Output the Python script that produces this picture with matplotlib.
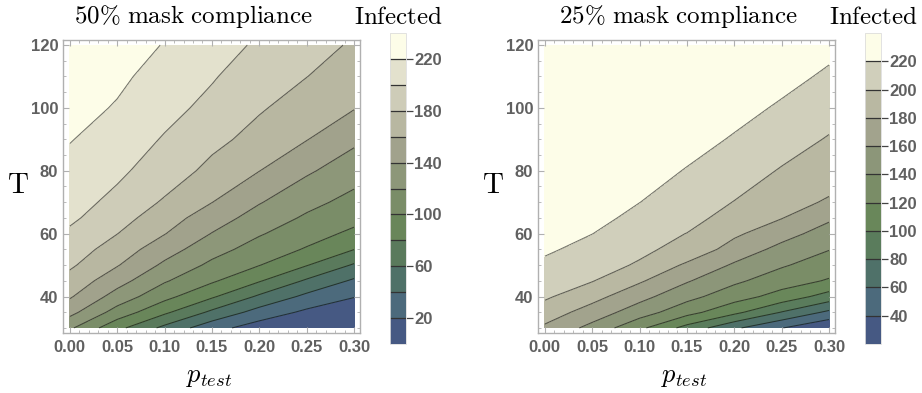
import numpy as np
import matplotlib
matplotlib.use('Agg')
import matplotlib.pyplot as plt
from matplotlib.ticker import MultipleLocator

plt.rcParams['mathtext.fontset'] = 'cm'
plt.rcParams['font.family'] = ['Liberation Sans', 'DejaVu Sans']

# grid: columns = p_test, rows = T
p_test = [0.0, 0.05, 0.10, 0.15, 0.20, 0.25, 0.30]
T_vals = [30, 35, 40, 45, 50, 55, 60, 65, 70, 80, 90, 100, 110, 120]

infected_50 = [
    [123.2, 85.6, 54.8, 27.4, 10.0, 5.0, 1.0],
    [146.2, 112.0, 83.7, 56.0, 32.1, 16.0, 10.0],
    [162.2, 131.9, 106.1, 82.7, 56.9, 35.3, 20.7],
    [172.9, 147.9, 122.0, 102.8, 81.6, 57.3, 37.0],
    [183.2, 161.3, 136.3, 115.6, 100.6, 81.0, 57.9],
    [190.8, 170.7, 148.9, 127.7, 111.3, 98.3, 80.3],
    [196.7, 180.3, 160.7, 139.3, 121.8, 108.1, 95.9],
    [203.6, 188.1, 168.9, 149.8, 131.6, 117.1, 105.8],
    [205.9, 195.9, 177.4, 160.3, 141.3, 125.8, 113.7],
    [213.6, 203.1, 192.0, 174.0, 160.3, 142.9, 128.8],
    [221.0, 210.3, 198.5, 186.0, 172.5, 160.7, 144.1],
    [227.1, 218.4, 205.7, 195.1, 182.2, 170.3, 161.0],
    [233.2, 223.9, 212.4, 201.6, 189.8, 180.3, 169.3],
    [239.0, 230.0, 219.0, 208.0, 197.3, 187.7, 177.7],
]

infected_25 = [
    [176.5, 153.8, 124.5, 93.0, 63.5, 40.7, 21.5],
    [190.5, 171.3, 149.5, 127.2, 105.2, 79.2, 55.9],
    [203.0, 186.8, 166.5, 146.3, 128.6, 112.4, 91.7],
    [209.1, 200.9, 182.5, 161.8, 143.8, 129.4, 118.1],
    [216.1, 207.3, 198.0, 176.7, 157.5, 142.2, 129.9],
    [223.0, 213.6, 203.8, 194.0, 171.9, 154.2, 140.7],
    [228.0, 220.2, 209.2, 199.6, 183.5, 167.4, 151.5],
    [230.0, 226.0, 214.6, 207.5, 191.5, 180.7, 163.1],
    [232.0, 228.0, 220.2, 209.3, 199.5, 186.7, 178.0],
    [235.0, 232.0, 229.0, 218.8, 208.9, 198.6, 188.8],
    [237.0, 234.5, 232.0, 228.0, 218.1, 208.1, 198.6],
    [238.5, 236.5, 234.5, 231.0, 227.0, 217.3, 207.7],
    [239.3, 238.0, 236.5, 234.0, 230.5, 226.5, 216.7],
    [239.8, 239.0, 238.0, 236.0, 233.5, 230.0, 225.7],
]

levels_50 = list(range(0, 241, 20))
levels_25 = [21] + list(range(40, 241, 20))
cticks_50 = [20, 60, 100, 140, 180, 220]
cticks_25 = [40, 60, 80, 100, 120, 140, 160, 180, 200, 220]

# band colours, bottom to top
colors_50 = ['#465983', '#4c6a7c', '#4f7168', '#5a7a5c', '#69865a', '#7a8d68',
             '#8d9779', '#a1a28c', '#b8b7a1', '#ceccb8', '#e3e1cd', '#fdfde8']
colors_25 = ['#465983', '#4c6a7c', '#4f7169', '#5a7c5c', '#69875a', '#7a8d67',
             '#8c9679', '#a2a38d', '#b9b8a2', '#d0cfbb', '#fdfde8']

W, H = 922, 393
fig = plt.figure(figsize=(W / 100, H / 100), dpi=100)

frame_col = '#b0b0b0'
label_col = '#606060'


def panel(ax_left, cax_left, Z, levels, colors, cticks, title, title_x):
    ax = fig.add_axes([ax_left / W, 1 - 333 / H, 297 / W, 293 / H])
    cax = fig.add_axes([cax_left / W, 1 - 344 / H, 16 / W, 311 / H])
    P, TT = np.meshgrid(p_test, T_vals)
    Z = np.array(Z)
    cf = ax.contourf(P, TT, Z, levels=levels, colors=colors)
    ax.contour(P, TT, Z, levels=levels[1:-1], colors='black',
               linewidths=0.75, alpha=0.55)
    ax.set_xlim(-0.0072, 0.3063)
    ax.set_ylim(28.4, 121.6)
    ax.set_xticks(np.arange(0, 0.31, 0.05))
    ax.set_xticklabels([f'{v:.2f}' for v in np.arange(0, 0.31, 0.05)])
    ax.set_yticks([40, 60, 80, 100, 120])
    ax.xaxis.set_minor_locator(MultipleLocator(0.01))
    ax.yaxis.set_minor_locator(MultipleLocator(5))
    ax.tick_params(which='both', direction='in', top=True, right=True,
                   color=frame_col, labelsize=12, labelcolor=label_col)
    ax.tick_params(which='major', length=4, width=0.8)
    ax.tick_params(which='minor', length=2, width=0.6)
    ax.tick_params(axis='x', pad=5)
    for lbl in ax.get_xticklabels() + ax.get_yticklabels():
        lbl.set_fontweight('bold')
    for s in ax.spines.values():
        s.set_color(frame_col)
        s.set_linewidth(1.0)

    cb = fig.colorbar(cf, cax=cax, ticks=cticks)
    for lv in levels[1:-1]:
        cax.axhline(lv, color='#333333', lw=0.9)
    cb.outline.set_edgecolor('#dddddd')
    cb.outline.set_linewidth(0.6)
    cax.tick_params(length=5, width=0.9, color='#444444', labelsize=12,
                    labelcolor=label_col, pad=1)
    for lbl in cax.get_yticklabels():
        lbl.set_fontweight('bold')

    fig.text(title_x / W, 1 - 17 / H, title, fontsize=18,
             ha='center', va='center')
    fig.text((cax_left + 8) / W, 1 - 17 / H, r'$\mathrm{Infected}$',
             fontsize=18, ha='center', va='center')
    fig.text((ax_left - 45) / W, 1 - 185 / H, r'$\mathrm{T}$', fontsize=21,
             ha='center', va='center')
    fig.text((ax_left + 146) / W, 1 - 377 / H, r'$p_{test}$', fontsize=19,
             ha='center', va='center')


panel(63, 390, infected_50, levels_50, colors_50, cticks_50,
      r'$\mathrm{50\%\ mask\ compliance}$', 193.5)
panel(538, 865, infected_25, levels_25, colors_25, cticks_25,
      r'$\mathrm{25\%\ mask\ compliance}$', 678.5)

fig.savefig('out.png', dpi=100)
